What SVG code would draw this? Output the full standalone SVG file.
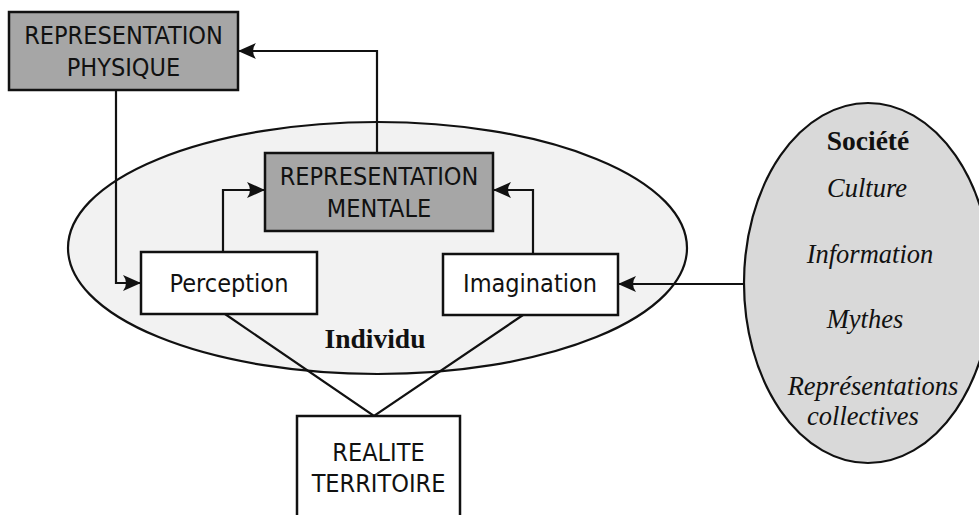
<svg xmlns="http://www.w3.org/2000/svg" width="979" height="515" viewBox="0 0 979 515">
  <style>
    .box { stroke: #111; stroke-width: 2.5; }
    .dark { fill: #a6a6a6; }
    .light { fill: #ffffff; }
    .conn { fill: none; stroke: #111; stroke-width: 2.2; }
    .sans { font-family: "DejaVu Sans Condensed", "Liberation Sans Narrow", "Liberation Sans", sans-serif; font-size: 25px; fill: #111; text-anchor: middle; font-stretch: condensed; }
    .serifb { font-family: "Liberation Serif", "Times New Roman", serif; font-size: 27.5px; font-weight: bold; fill: #111; text-anchor: middle; }
    .serifi { font-family: "Liberation Serif", "Times New Roman", serif; font-size: 26.5px; font-style: italic; fill: #111; text-anchor: middle; }
  </style>
  <defs>
    <marker id="arrow" markerUnits="userSpaceOnUse" markerWidth="20" markerHeight="18" refX="18" refY="8" orient="auto">
      <path d="M0,0 L18,8 L0,16 Q6,8 0,0 Z" fill="#111"/>
    </marker>
  </defs>

  <rect width="979" height="515" fill="#ffffff"/>

  <g id="individu">
    <ellipse cx="377.5" cy="248" rx="309.5" ry="126" fill="#f2f2f2" stroke="#111" stroke-width="2.2"/>
    <text class="serifb" x="375" y="348">Individu</text>
  </g>

  <g id="societe">
    <ellipse cx="868" cy="283" rx="124" ry="180" fill="#d9d9d9" stroke="#111" stroke-width="2.2"/>
    <text class="serifb" x="868" y="150">Société</text>
    <text class="serifi" x="867" y="197">Culture</text>
    <text class="serifi" x="870" y="263">Information</text>
    <text class="serifi" x="865" y="328">Mythes</text>
    <text class="serifi" x="873" y="395">Représentations</text>
    <text class="serifi" x="863" y="425">collectives</text>
  </g>

  <g id="connectors">
    <polyline class="conn" points="377,153 377,51 238,51" marker-end="url(#arrow)"/>
    <polyline class="conn" points="116,90 116,283 141,283" marker-end="url(#arrow)"/>
    <polyline class="conn" points="223,252 223,190 265,190" marker-end="url(#arrow)"/>
    <polyline class="conn" points="533,254 533,190 493,190" marker-end="url(#arrow)"/>
    <line class="conn" x1="744" y1="284" x2="618" y2="284" marker-end="url(#arrow)"/>
    <polyline class="conn" points="225,314 374,416 523,315"/>
  </g>

  <g id="rep-physique">
    <rect class="box dark" x="9" y="12" width="229" height="78"/>
    <text class="sans" x="123.5" y="44">REPRESENTATION</text>
    <text class="sans" x="123.5" y="76">PHYSIQUE</text>
  </g>

  <g id="rep-mentale">
    <rect class="box dark" x="265" y="153" width="228" height="78"/>
    <text class="sans" x="379" y="185">REPRESENTATION</text>
    <text class="sans" x="379" y="217">MENTALE</text>
  </g>

  <g id="perception">
    <rect class="box light" x="141" y="252" width="176" height="62"/>
    <text class="sans" x="229" y="292">Perception</text>
  </g>

  <g id="imagination">
    <rect class="box light" x="443" y="254" width="175" height="61"/>
    <text class="sans" x="530" y="292">Imagination</text>
  </g>

  <g id="realite">
    <rect class="box light" x="297" y="416" width="163" height="120"/>
    <text class="sans" x="378.5" y="461">REALITE</text>
    <text class="sans" x="378.5" y="492">TERRITOIRE</text>
  </g>
</svg>
